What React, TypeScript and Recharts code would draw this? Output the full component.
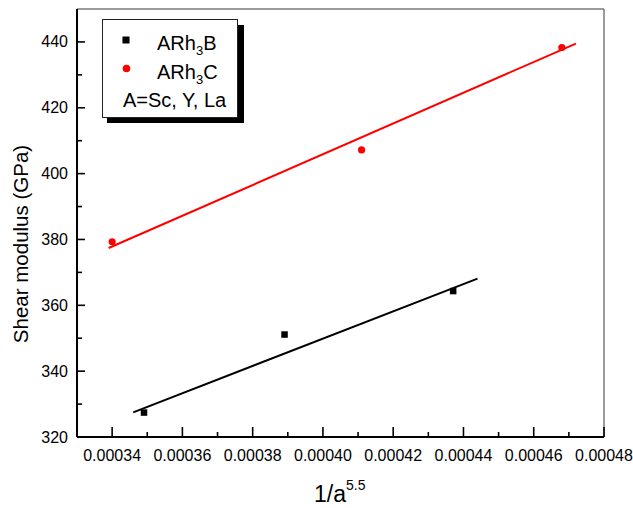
import {
  ComposedChart,
  Line,
  Scatter,
  XAxis,
  YAxis,
  ReferenceLine,
} from "recharts";

// measured points
const boridesX = [0.000349, 0.000389, 0.000437];
const boridesY = [327.5, 351.2, 364.4];
const carbidesX = [0.00034, 0.000411, 0.000468];
const carbidesY = [379.3, 407.2, 438.3];

// linear fits (end points as drawn)
const boridesFitX = [0.000346, 0.000444];
const boridesFitY = [327.5, 368.1];
const carbidesFitX = [0.000339, 0.000472];
const carbidesFitY = [377.4, 439.5];

const xMajor = [0.00034, 0.00036, 0.00038, 0.0004, 0.00042, 0.00044, 0.00046, 0.00048];
const xMinor = [0.00035, 0.00037, 0.00039, 0.00041, 0.00043, 0.00045, 0.00047];
const yMajor = [320, 340, 360, 380, 400, 420, 440];
const yMinor = [330, 350, 370, 390, 410, 430];

const FONT = '"Liberation Sans", Arial, sans-serif';

const toPts = (xs: number[], ys: number[]) => xs.map((x, i) => ({ x, y: ys[i] }));

const boridePts = toPts(boridesX, boridesY);
const carbidePts = toPts(carbidesX, carbidesY);
const borideFit = toPts(boridesFitX, boridesFitY);
const carbideFit = toPts(carbidesFitX, carbidesFitY);

const xTicks = [...xMajor, ...xMinor].sort((a, b) => a - b);
const yTicks = [...yMajor, ...yMinor].sort((a, b) => a - b);

const isMajor = (list: number[], v: number) => list.some((m) => Math.abs(m - v) < 1e-9);

function XTick(props: any) {
  const { x, y, payload } = props;
  const major = isMajor(xMajor, payload.value);
  return (
    <g>
      <line x1={x} x2={x} y1={y} y2={y - (major ? 10 : 5)} stroke="#000" strokeWidth={1.6} />
      {major && (
        <text x={x} y={y + 24} textAnchor="middle" fontSize={16} fontFamily={FONT} fill="#000">
          {payload.value.toFixed(5)}
        </text>
      )}
    </g>
  );
}

function YTick(props: any) {
  const { x, y, payload } = props;
  const major = isMajor(yMajor, payload.value);
  return (
    <g>
      <line x1={x} x2={x + (major ? 8 : 5)} y1={y} y2={y} stroke="#000" strokeWidth={1.6} />
      {major && (
        <text x={x - 9} y={y + 5.5} textAnchor="end" fontSize={16} fontFamily={FONT} fill="#000">
          {payload.value}
        </text>
      )}
    </g>
  );
}

function LegendBox() {
  // drawn box with the hard drop shadow Origin uses
  return (
    <svg
      width={150}
      height={112}
      style={{ position: "absolute", left: 100, top: 17 }}
    >
      <rect x={7} y={8} width={137} height={98} fill="#000" />
      <rect x={2.5} y={2.5} width={135} height={98} fill="#fff" stroke="#222" strokeWidth={1} />
      <rect x={22.5} y={19.5} width={7} height={7} fill="#000" />
      <text x={57} y={33} fontSize={20} fontFamily={FONT} fill="#000">
        ARh<tspan fontSize={13} dy={5}>3</tspan>
        <tspan dy={-5}>B</tspan>
      </text>
      <circle cx={26.5} cy={51.5} r={3.8} fill="#ff0000" />
      <text x={57} y={61.5} fontSize={20} fontFamily={FONT} fill="#000">
        ARh<tspan fontSize={13} dy={5}>3</tspan>
        <tspan dy={-5}>C</tspan>
      </text>
      <text x={23} y={90} fontSize={20} fontFamily={FONT} fill="#000">
        A=Sc, Y, La
      </text>
    </svg>
  );
}

export default function App() {
  return (
    <div
      style={{
        position: "absolute",
        left: 0,
        top: 0,
        width: 633,
        height: 508,
        background: "#fff",
      }}
    >
      <ComposedChart
        width={633}
        height={508}
        margin={{ top: 9, right: 29, bottom: 0, left: 0 }}
      >
        <XAxis
          type="number"
          dataKey="x"
          domain={[0.00033, 0.00048]}
          ticks={xTicks}
          interval={0}
          tickSize={0}
          tickMargin={0}
          tickLine={false}
          tick={<XTick />}
          height={71}
          axisLine={{ stroke: "#000", strokeWidth: 2 }}
          allowDataOverflow
        />
        <YAxis
          type="number"
          dataKey="y"
          domain={[320, 450]}
          ticks={yTicks}
          interval={0}
          tickSize={0}
          tickMargin={0}
          tickLine={false}
          tick={<YTick />}
          width={77}
          axisLine={{ stroke: "#000", strokeWidth: 2 }}
          allowDataOverflow
        />
        <ReferenceLine y={450} stroke="#7a7a7a" strokeWidth={1.5} />
        <ReferenceLine x={0.00048} stroke="#7a7a7a" strokeWidth={1.5} />
        <Line
          data={borideFit}
          dataKey="y"
          type="linear"
          stroke="#000"
          strokeWidth={2}
          dot={false}
          isAnimationActive={false}
        />
        <Line
          data={carbideFit}
          dataKey="y"
          type="linear"
          stroke="#ff0000"
          strokeWidth={2}
          dot={false}
          isAnimationActive={false}
        />
        <Scatter
          data={boridePts}
          dataKey="y"
          isAnimationActive={false}
          shape={(p: any) => (
            <rect x={p.cx - 3} y={p.cy - 3} width={6.5} height={6.5} fill="#000" />
          )}
        />
        <Scatter
          data={carbidePts}
          dataKey="y"
          isAnimationActive={false}
          shape={(p: any) => <circle cx={p.cx} cy={p.cy} r={3.6} fill="#ff0000" />}
        />
      </ComposedChart>
      <LegendBox />
      <svg width={633} height={508} style={{ position: "absolute", left: 0, top: 0, pointerEvents: "none" }}>
        <text
          transform="translate(28,244) rotate(-90)"
          textAnchor="middle"
          fontSize={20.5}
          fontFamily={FONT}
          fill="#000"
        >
          Shear modulus (GPa)
        </text>
        <text x={314} y={502} fontSize={23} fontFamily={FONT} fill="#000">
          1/a<tspan fontSize={14} dy={-12}>5.5</tspan>
        </text>
      </svg>
    </div>
  );
}
